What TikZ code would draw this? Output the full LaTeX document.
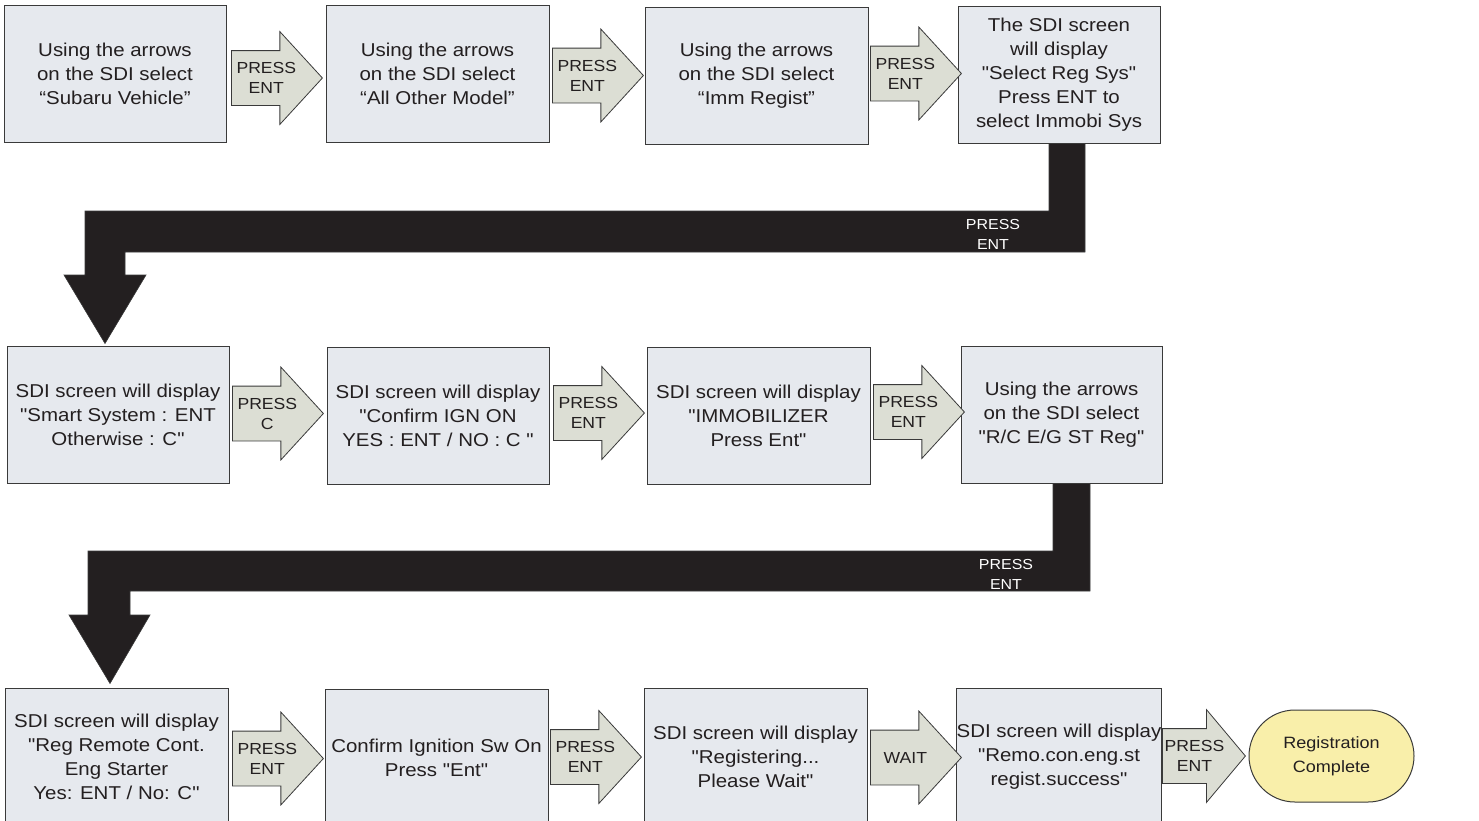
\documentclass[tikz,border=0pt]{standalone}
\usepackage{fontspec}
\setmainfont{Liberation Sans}[FakeStretch=1.1, Ligatures=TeXOff]
\usepackage{tikz}
\usetikzlibrary{shapes,arrows,calc}
\definecolor{grigiobox}{HTML}{E6E9EE}
\definecolor{grigiofreccia}{HTML}{DCDED4}
\definecolor{bordo}{HTML}{3A3A3A}
\definecolor{nero}{HTML}{231F20}
\definecolor{giallo}{HTML}{F9EFAA}
\tikzstyle{schermo} = [rectangle, draw=bordo, fill=grigiobox, line width=1pt,
    minimum width=223pt, minimum height=137pt, inner sep=0pt, align=center,
    text=nero, font=\fontsize{18.6}{24}\selectfont]
\tikzstyle{freccia} = [single arrow, draw=bordo, fill=grigiofreccia, line width=0.8pt,
    minimum height=91pt, single arrow head extend=19pt,
    single arrow tip angle=95, inner xsep=0pt, inner ysep=27pt, anchor=tail]
\tikzstyle{scritta} = [align=center, text=nero, xshift=2pt,
    font=\fontsize{16}{20}\selectfont]
\tikzstyle{nastro} = [fill=nero, draw=bordo, line width=0.6pt]
\tikzstyle{bianco} = [align=center, text=white, font=\fontsize{14.5}{20}\selectfont]
\tikzstyle{fine} = [rectangle, rounded corners=46pt, draw=bordo, fill=giallo,
    line width=1pt, minimum width=165pt, minimum height=92pt, align=center,
    text=nero, font=\fontsize{16.4}{24}\selectfont]

\begin{document}
\begin{tikzpicture}[x=1pt, y=-1pt]
  \useasboundingbox (0,0) rectangle (1479,820);

  % prima riga
  \node [schermo, minimum width=222pt] (b1) at (115,73.5)
    {Using the arrows\\on the SDI select\\“Subaru Vehicle”};
  \node [schermo] (b2) at (437.5,73.5)
    {Using the arrows\\on the SDI select\\“All Other Model”};
  \node [schermo] (b3) at (756.5,75.5)
    {Using the arrows\\on the SDI select\\“Imm Regist”};
  \node [schermo, minimum width=202pt] (b4) at (1059,74.5)
    {The SDI screen\\will display\\"Select Reg Sys"\\Press ENT to\\select Immobi Sys};
  \node [freccia, label={[scritta]center:PRESS\\ENT}] (f1) at (231,78) {};
  \node [freccia, label={[scritta]center:PRESS\\ENT}] (f2) at (552,75.5) {};
  \node [freccia, label={[scritta]center:PRESS\\ENT}] (f3) at (870,73.5) {};

  % seconda riga
  \node [schermo, minimum width=222pt] (b5) at (118,414.5)
    {SDI screen will display\\"Smart System : ENT\\Otherwise : C"};
  \node [schermo, minimum width=222pt] (b6) at (438,415.5)
    {SDI screen will display\\"Confirm IGN ON\\YES : ENT / NO : C "};
  \node [schermo] (b7) at (758.5,415.5)
    {SDI screen will display\\"IMMOBILIZER\\Press Ent"};
  \node [schermo, minimum width=201pt] (b8) at (1061.5,414.5)
    {Using the arrows\\on the SDI select\\"R/C E/G ST Reg"};
  \node [freccia, label={[scritta]center:PRESS\\C}] (f4) at (232,413.5) {};
  \node [freccia, label={[scritta]center:PRESS\\ENT}] (f5) at (553,413) {};
  \node [freccia, label={[scritta]center:PRESS\\ENT}] (f6) at (873,412) {};

  % terza riga
  \node [schermo] (b9) at (116.5,756.5)
    {SDI screen will display\\"Reg Remote Cont.\\Eng Starter\\Yes: ENT / No: C"};
  \node [schermo] (b10) at (436.5,758)
    {Confirm Ignition Sw On\\Press "Ent"};
  \node [schermo] (b11) at (755.5,757)
    {SDI screen will display\\"Registering...\\Please Wait"};
  \node [schermo, minimum width=202pt] (b12) at (1059,756.5)
    {SDI screen will display\\"Remo.con.eng.st\\regist.success"};
  \node [freccia, label={[scritta]center:PRESS\\ENT}] (f7) at (232,758.5) {};
  \node [freccia, label={[scritta]center:PRESS\\ENT}] (f8) at (550,757) {};
  \node [freccia, label={[scritta]center:WAIT}] (f9) at (870,757.5) {};
  \node [freccia, minimum height=83pt, single arrow tip angle=100,
    label={[scritta]center:PRESS\\ENT}] (f10) at (1162,756) {};
  \node [fine] (done) at (1331.5,756) {Registration\\Complete};

  % nastri neri tra le righe
  \fill [nastro] ([xshift=-10pt]b4.south) -- ([xshift=26pt]b4.south) |- (125,252)
    -- (125,275) -- (146,275) -- ([xshift=-13pt,yshift=2pt]b5.north)
    -- (64,275) -- (85,275) |- (1049,211) -- cycle;
  \node [bianco] (n1) at (993,234) {PRESS\\ENT};

  \fill [nastro] ([xshift=-8.5pt]b8.south) -- ([xshift=28.5pt]b8.south) |- (130,591)
    -- (130,615) -- (150,615) -- ([xshift=-6.5pt,yshift=4pt]b9.north)
    -- (69,615) -- (88,615) |- (1053,551) -- cycle;
  \node [bianco] (n2) at (1006,574) {PRESS\\ENT};
\end{tikzpicture}
\end{document}
